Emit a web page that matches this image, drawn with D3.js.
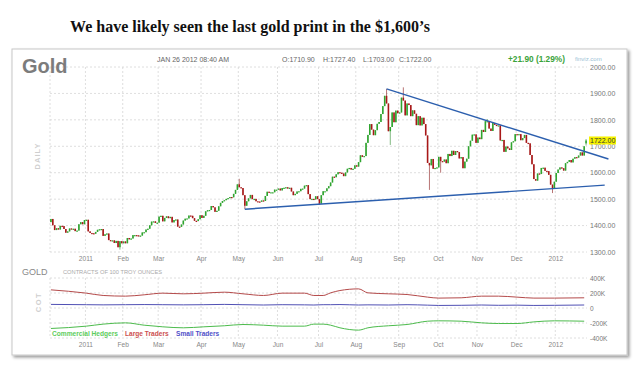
<!DOCTYPE html>
<html><head><meta charset="utf-8">
<script src="https://cdn.jsdelivr.net/npm/d3@7"></script>
<style>body{margin:0;background:#fff}svg{display:block}</style>
</head><body><svg id="c" width="640" height="369"></svg>
<script>
// ---------- DATA ----------
const firstDay = "2010-12-06", lastDay = "2012-01-26";
const holidays = ["2010-12-24","2011-01-17","2011-02-21","2011-04-22","2011-05-30","2011-07-04",
  "2011-09-05","2011-11-24","2011-12-26","2012-01-02","2012-01-16"];
const firstOpen = 1413;
const closes = [
  // Dec 2010
  1425,1401,1383,1390,1385,1399,1398,1387,1373,1378,1389,1387,1388,1379,1381,1405,1413,1405,1421,
  // Jan 2011
  1422,1378,1372,1371,1369,1376,1384,1386,1387,1361,1367,1370,1345,1343,1344,1334,1342,1318,1341,1333,
  // Feb
  1340,1333,1353,1348,1351,1364,1364,1363,1361,1362,1374,1375,1385,1388,1401,1415,1416,1410,1411,
  // Mar
  1434,1437,1416,1429,1435,1428,1433,1412,1421,1423,1396,1395,1404,1419,1426,1427,1438,1437,1428,1418,1417,1424,1439,
  // Apr
  1429,1437,1454,1458,1459,1474,1469,1452,1456,1473,1486,1493,1496,1501,1504,1508,1507,1520,1535,1556,
  // May
  1545,1542,1515,1475,1492,1503,1516,1500,1501,1492,1491,1490,1495,1493,1512,1528,1526,1526,1526,1536,1536,
  // Jun
  1540,1533,1542,1543,1545,1540,1543,1529,1515,1520,1529,1530,1539,1540,1551,1553,1519,1500,1501,1499,1511,1500,
  // Jul
  1483,1515,1530,1530,1541,1549,1563,1585,1583,1594,1602,1600,1597,1587,1601,1615,1618,1612,1615,1628,
  // Aug
  1623,1640,1666,1660,1663,1713,1743,1784,1763,1742,1761,1785,1792,1822,1852,1891,1862,1757,1773,1828,1791,1835,1825,
  // Sep
  1828,1884,1873,1817,1862,1856,1814,1836,1823,1780,1814,1779,1808,1784,1741,1637,1628,1652,1615,1618,1620,
  // Oct
  1660,1644,1642,1650,1636,1671,1663,1683,1667,1682,1678,1654,1659,1617,1642,1653,1700,1721,1744,1745,1713,
  // Nov
  1733,1727,1762,1754,1795,1795,1767,1758,1788,1781,1779,1779,1722,1724,1679,1699,1692,1686,1715,1719,1746,
  // Dec
  1745,1746,1723,1731,1743,1713,1711,1667,1632,1576,1570,1597,1595,1618,1619,1607,1606,1592,1555,1540,1566,
  // Jan 2012
  1599,1612,1620,1617,1608,1636,1641,1648,1639,1653,1659,1657,1665,1677,1665,1700,1722
];
const lastOHLC = [1710.90, 1727.40, 1703.00, 1722.00];
const spikeHighs = [["2011-05-02",1577],["2011-08-23",1917],["2011-09-06",1923],["2011-11-08",1803]];
const spikeLows = [["2011-01-28",1309],["2011-05-05",1462],["2011-07-01",1478],["2011-08-25",1705],
  ["2011-09-26",1535],["2011-10-04",1600],["2011-12-29",1523]];
const trendUpper = [[180, 1917], [299, 1652]];   // [session, price]
const trendLower = [[104, 1462], [297, 1553]];
const priceTicks = [1300,1400,1500,1600,1700,1800,1900,2000];

const cotDates = ["2010-12-06","2011-01-03","2011-01-14","2011-02-02","2011-02-16","2011-03-03","2011-03-18",
  "2011-04-04","2011-04-19","2011-05-04","2011-05-19","2011-06-03","2011-06-21","2011-06-28","2011-07-06",
  "2011-07-12","2011-07-19","2011-08-02","2011-08-09","2011-08-24","2011-09-08","2011-09-23","2011-10-03",
  "2011-10-19","2011-11-03","2011-11-16","2011-12-01","2011-12-14","2011-12-30","2012-01-25"];
const cotLarge = [242,198,167,158,176,198,189,198,211,189,167,198,198,167,167,202,233,255,202,189,180,145,132,136,158,158,145,132,132,136];
const cotSmall = [48,44,42,44,46,44,42,44,48,44,40,44,42,40,44,44,46,40,42,40,44,38,34,36,40,36,38,34,36,40];
const cotCommercial = [-273,-242,-215,-198,-229,-251,-264,-251,-237,-220,-229,-242,-242,-215,-215,-229,-264,-295,-264,-237,-220,-176,-171,-176,-198,-207,-207,-185,-171,-176];
const cotTicks = [-400,-200,0,200,400];

// ---------- DRAW ----------
const svg = d3.select("#c");
const FONT = "'Liberation Sans', Arial, sans-serif";
const defs = svg.append("defs");
const flt = defs.append("filter").attr("id","sh").attr("x","-5%").attr("y","-5%").attr("width","112%").attr("height","115%");
flt.append("feDropShadow").attr("dx",2).attr("dy",2).attr("stdDeviation",1.6).attr("flood-color","#000").attr("flood-opacity",0.4);

// title
const title = svg.append("text").attr("x",250).attr("y",32).attr("text-anchor","middle")
  .attr("font-family","'Liberation Serif', 'DejaVu Serif', serif").attr("font-weight","bold")
  .attr("font-size",20).attr("fill","#111").text("We have likely seen the last gold print in the $1,600\u2019s");
const tw = title.node().getComputedTextLength();
title.attr("font-size", 20*360/tw);

// panel
svg.append("rect").attr("x",12).attr("y",49).attr("width",615).attr("height",306)
  .attr("fill","#fff").attr("stroke","#c8c8c8").attr("filter","url(#sh)");

// trading days
const parse = d3.utcParse("%Y-%m-%d"), fmt = d3.utcFormat("%Y-%m-%d");
const hol = new Set(holidays);
const days = d3.utcDays(parse(firstDay), d3.utcDay.offset(parse(lastDay),1))
  .filter(d => d.getUTCDay()%6 !== 0 && !hol.has(fmt(d)));
const idxOf = new Map(days.map((d,i)=>[fmt(d), i]));
const N = days.length;

const x = d3.scaleLinear().domain([0, N]).range([50, 587]);
const y = d3.scaleLinear().domain([1300, 2000]).range([252, 67]);
const yc = d3.scaleLinear().domain([-400, 400]).range([338, 278]);

const monthIdx = [];
days.forEach((d,i)=>{ if(i>0 && d.getUTCMonth() !== days[i-1].getUTCMonth()) monthIdx.push(i); });
const mLabel = i => days[i].getUTCMonth()===0 ? d3.utcFormat("%Y")(days[i]) : d3.utcFormat("%b")(days[i]);

const gridC = "#d6d6d6";
function grid(yScale, ticks, top, bottom){
  const g = svg.append("g").attr("stroke",gridC).attr("stroke-dasharray","2,2").attr("stroke-width",0.8).attr("fill","none");
  ticks.forEach(t=>g.append("line").attr("x1",x(0)).attr("x2",x(N)).attr("y1",yScale(t)).attr("y2",yScale(t)));
  [0, ...monthIdx].forEach(i=>g.append("line").attr("x1",x(i)).attr("x2",x(i)).attr("y1",top).attr("y2",bottom));
}
grid(y, priceTicks, y(2000), y(1300));
grid(yc, cotTicks, yc(400), yc(-400));

// candles
const hiMap = new Map(spikeHighs), loMap = new Map(spikeLows);
const bars = days.map((d,i)=>{
  const key = fmt(d);
  let o = i===0 ? firstOpen : closes[i-1], c = closes[i];
  let h = Math.max(o,c), l = Math.min(o,c);
  if(i===N-1){ o = lastOHLC[0]; h = lastOHLC[1]; l = lastOHLC[2]; c = lastOHLC[3]; }
  if(hiMap.has(key)) h = Math.max(h, hiMap.get(key));
  if(loMap.has(key)) l = Math.min(l, loMap.get(key));
  return {i,o,h,l,c};
});
const step = x(1)-x(0);
const cg = svg.append("g");
cg.selectAll("line.w").data(bars).join("line")
  .attr("x1",d=>x(d.i+0.5)).attr("x2",d=>x(d.i+0.5)).attr("y1",d=>y(d.h)).attr("y2",d=>y(d.l))
  .attr("stroke",d=>d.c>=d.o?"#4a9a4a":"#9a3a3a").attr("stroke-width",0.7);
cg.selectAll("rect").data(bars).join("rect")
  .attr("x",d=>x(d.i+0.5)-step*0.42).attr("width",step*0.84)
  .attr("y",d=>y(Math.max(d.o,d.c))).attr("height",d=>Math.max(1.2, Math.abs(y(d.o)-y(d.c))))
  .attr("fill",d=>d.c>=d.o?"#2fa52f":"#a81818");

// trend lines
const tl = d3.line().x(d=>x(d[0]+0.5)).y(d=>y(d[1]));
[trendUpper, trendLower].forEach(t=>svg.append("path").attr("d",tl(t)).attr("fill","none")
  .attr("stroke","#2c5fae").attr("stroke-width",1.4));

// price axis
const pa = svg.append("g").attr("transform","translate(590,0)")
  .call(d3.axisRight(y).tickValues(priceTicks).tickFormat(d3.format(".2f")).tickSize(0).tickPadding(0));
pa.select(".domain").remove();
pa.selectAll("text").attr("font-family",FONT).attr("font-size",7).attr("fill","#777");

// last price tag
const lp = lastOHLC[3];
svg.append("rect").attr("x",589).attr("y",y(lp)-4).attr("width",27).attr("height",8).attr("fill","#f6f200");
svg.append("text").attr("x",590).attr("y",y(lp)).attr("dy","0.34em").attr("font-family",FONT)
  .attr("font-size",7).attr("fill","#333").text(d3.format(".2f")(lp));

// month axes
function xAxis(yPos){
  const a = svg.append("g").attr("transform",`translate(0,${yPos})`)
    .call(d3.axisBottom(x).tickValues(monthIdx).tickFormat(mLabel).tickSize(0).tickPadding(4));
  a.select(".domain").remove();
  a.selectAll("text").attr("font-family",FONT).attr("font-size",6.6).attr("fill","#888");
}
xAxis(y(1300));
xAxis(yc(-400));

// cot axis
const ca = svg.append("g").attr("transform","translate(590,0)")
  .call(d3.axisRight(yc).tickValues(cotTicks).tickFormat(d=> d===0 ? "0" : d+"K").tickSize(0).tickPadding(0));
ca.select(".domain").remove();
ca.selectAll("text").attr("font-family",FONT).attr("font-size",6.5).attr("fill","#777");

// cot lines
const cl = d3.line().x((d,i)=>x(idxOf.get(cotDates[i])+0.5)).y(d=>yc(d)).curve(d3.curveMonotoneX);
[[cotLarge,"#b44a4a"],[cotSmall,"#5050b4"],[cotCommercial,"#4cbb4c"]].forEach(([s,col])=>
  svg.append("path").attr("d",cl(s)).attr("fill","none").attr("stroke",col).attr("stroke-width",1));

// header texts
const txt = (xx,yy,s,size,col,w)=>svg.append("text").attr("x",xx).attr("y",yy).attr("font-family",FONT)
  .attr("font-size",size).attr("fill",col).attr("font-weight",w||"normal").text(s);
txt(22,73,"Gold",20,"#7c7c7c","bold");
txt(157,62,"JAN 26 2012 08:40 AM",7,"#666");
txt(282,62,"O:"+d3.format(".2f")(lastOHLC[0]),7,"#666");
txt(323,62,"H:"+d3.format(".2f")(lastOHLC[1]),7,"#666");
txt(363,62,"L:"+d3.format(".2f")(lastOHLC[2]),7,"#666");
txt(399,62,"C:"+d3.format(".2f")(lastOHLC[3]),7,"#666");
txt(508,62,"+21.90 (1.29%)",8.3,"#3aa33a","bold");
txt(575,61,"finviz.com",6,"#9bbfd6");
txt(22,275,"GOLD",9,"#888");
txt(63,274,"CONTRACTS OF 100 TROY OUNCES",5.7,"#aaa");
txt(52,336,"Commercial Hedgers",6.6,"#5ccc5c","bold");
txt(125,336,"Large Traders",6.6,"#cc5050","bold");
txt(176,336,"Small Traders",6.6,"#5050c8","bold");

// rotated labels
svg.append("text").attr("transform","translate(40,156) rotate(-90)").attr("text-anchor","middle")
  .attr("font-family",FONT).attr("font-size",7.5).attr("font-weight","bold").attr("letter-spacing",1)
  .attr("fill","#cfcfcf").text("DAILY");
svg.append("text").attr("transform","translate(41,302) rotate(-90)").attr("text-anchor","middle")
  .attr("font-family",FONT).attr("font-size",7.5).attr("font-weight","bold").attr("letter-spacing",1.5)
  .attr("fill","#cfcfcf").text("COT");
</script></body></html>
